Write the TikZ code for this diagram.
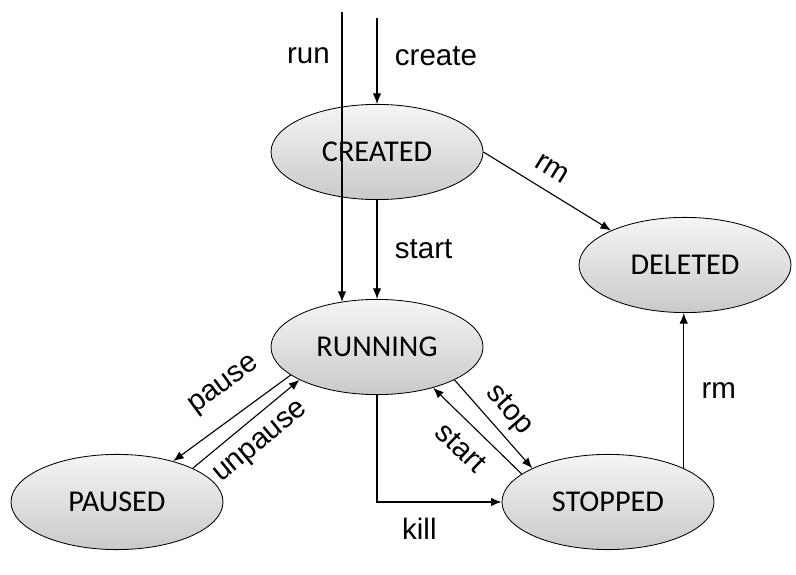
\documentclass[tikz,border=0pt]{standalone}
\usepackage{fontspec}
\setmainfont{Liberation Sans}
\newfontfamily\statefont{Carlito}
\usetikzlibrary{automata, positioning, arrows, arrows.meta}
\usetikzlibrary{shapes.geometric}

\begin{document}
\begin{tikzpicture}[>={Latex[length=7.5pt,width=6pt]}, line width=0.8pt, font=\fontsize{21}{25}\selectfont]
    \tikzstyle{every state}=[ellipse, draw, line width=0.6pt, top color=gray!8, bottom color=gray!42, minimum width=5.3cm, minimum height=2.38cm, inner sep=0pt, font=\statefont\fontsize{21.5}{25}\selectfont]
    \tikzset{node distance=4.875cm, auto}
    \useasboundingbox (0,0) rectangle (19.9,14.35);

    \node[state] (created) at (9.425,10.55) {CREATED};
    \node[state, below of=created] (running) {RUNNING};
    \node[state] (deleted) at (17.125,7.725) {DELETED};
    \node[state] (paused) at (2.925,1.8) {PAUSED};
    \node[state] (stopped) at (15.2,1.8) {STOPPED};
    \coordinate (runtop) at (8.55,14.05);
    \coordinate (createtop) at (9.425,13.9);

    \draw[->] (runtop) -- node[left=5pt, pos=0.15]{run} (runtop |- running.129);
    \draw[->] (createtop) -- node[right=9pt, pos=0.44]{create} (created.north);
    \draw[->] (created.south) -- node[right=9pt]{start} (created.south |- running.north);
    \draw[->] (created.east) -- node[sloped, above=6pt, pos=0.45]{rm} (deleted.155);
    \draw[->] (stopped.24) -- node[right=9pt]{rm} (stopped.24 |- deleted.south);
    \draw[->] (running.198) -- node[sloped, above=10pt, pos=0.41]{pause} (paused.36);
    \draw[->] (paused.24) -- node[sloped, below=6pt]{unpause} (running.203);
    \draw[->] (running.337) -- node[sloped, above=2pt]{stop} (stopped.156);
    \draw[->] (stopped.162) -- node[sloped, below=6pt]{start} (running.324);
    \draw[->] (running.south) |- node[below=8pt, pos=0.67]{kill} (stopped.west);
\end{tikzpicture}
\end{document}
